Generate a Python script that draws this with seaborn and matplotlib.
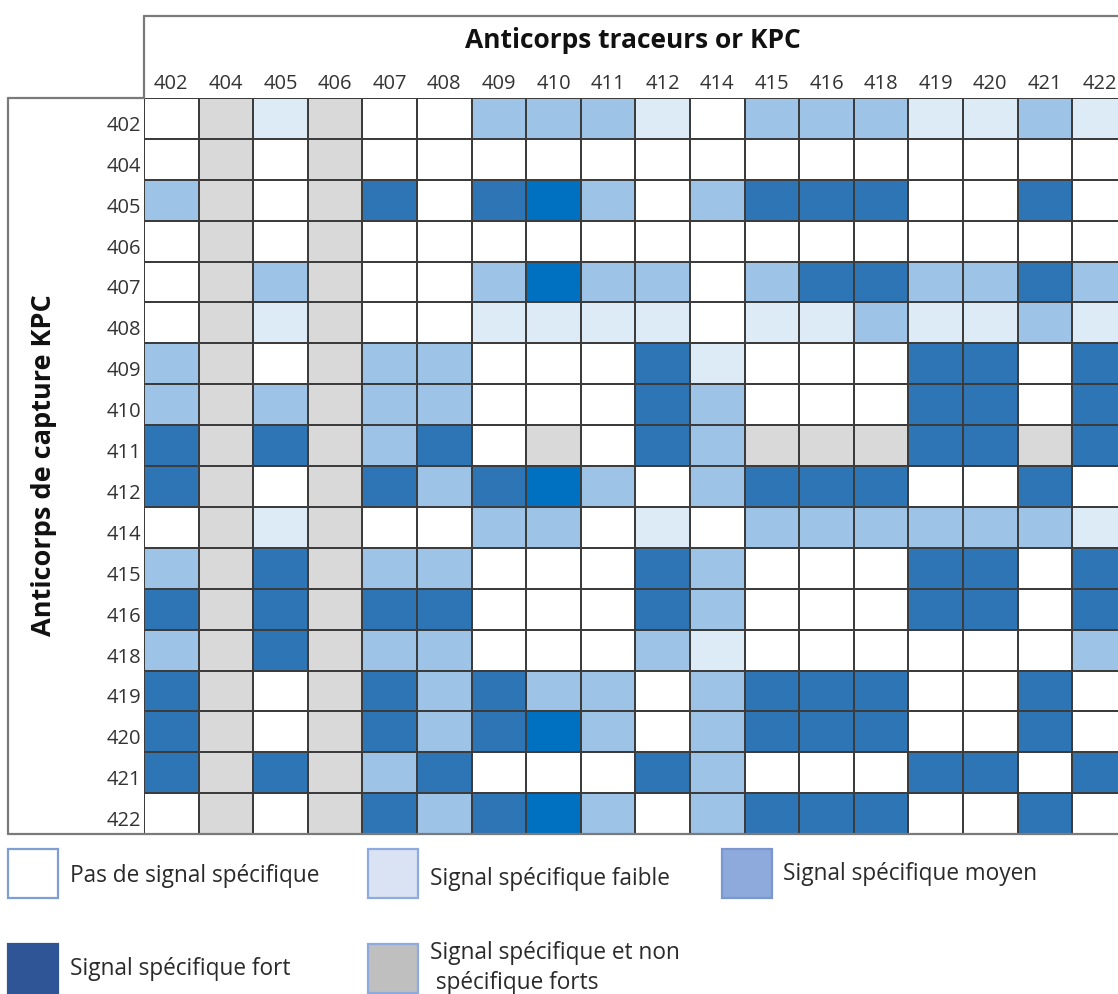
import numpy as np
import pandas as pd
import seaborn as sns
import matplotlib.pyplot as plt
from matplotlib.colors import ListedColormap
from matplotlib.lines import Line2D
from matplotlib.patches import Rectangle

sns.set_style("white")
plt.rcParams["font.family"] = ["Open Sans", "DejaVu Sans"]

# KPC antibody identifiers (tracer columns and capture rows share the same list)
tracers = ["402", "404", "405", "406", "407", "408", "409", "410", "411",
           "412", "414", "415", "416", "418", "419", "420", "421", "422"]
captures = list(tracers)

# Signal codes: 0 none, 1 weak, 2 medium, 3 strong, 4 strong (bright), 5 specific + non-specific
r402 = [0, 5, 1, 5, 0, 0, 2, 2, 2, 1, 0, 2, 2, 2, 1, 1, 2, 1]
r404 = [0, 5, 0, 5, 0, 0, 0, 0, 0, 0, 0, 0, 0, 0, 0, 0, 0, 0]
r405 = [2, 5, 0, 5, 3, 0, 3, 4, 2, 0, 2, 3, 3, 3, 0, 0, 3, 0]
r406 = [0, 5, 0, 5, 0, 0, 0, 0, 0, 0, 0, 0, 0, 0, 0, 0, 0, 0]
r407 = [0, 5, 2, 5, 0, 0, 2, 4, 2, 2, 0, 2, 3, 3, 2, 2, 3, 2]
r408 = [0, 5, 1, 5, 0, 0, 1, 1, 1, 1, 0, 1, 1, 2, 1, 1, 2, 1]
r409 = [2, 5, 0, 5, 2, 2, 0, 0, 0, 3, 1, 0, 0, 0, 3, 3, 0, 3]
r410 = [2, 5, 2, 5, 2, 2, 0, 0, 0, 3, 2, 0, 0, 0, 3, 3, 0, 3]
r411 = [3, 5, 3, 5, 2, 3, 0, 5, 0, 3, 2, 5, 5, 5, 3, 3, 5, 3]
r412 = [3, 5, 0, 5, 3, 2, 3, 4, 2, 0, 2, 3, 3, 3, 0, 0, 3, 0]
r414 = [0, 5, 1, 5, 0, 0, 2, 2, 0, 1, 0, 2, 2, 2, 2, 2, 2, 1]
r415 = [2, 5, 3, 5, 2, 2, 0, 0, 0, 3, 2, 0, 0, 0, 3, 3, 0, 3]
r416 = [3, 5, 3, 5, 3, 3, 0, 0, 0, 3, 2, 0, 0, 0, 3, 3, 0, 3]
r418 = [2, 5, 3, 5, 2, 2, 0, 0, 0, 2, 1, 0, 0, 0, 0, 0, 0, 2]
r419 = [3, 5, 0, 5, 3, 2, 3, 2, 2, 0, 2, 3, 3, 3, 0, 0, 3, 0]
r420 = [3, 5, 0, 5, 3, 2, 3, 4, 2, 0, 2, 3, 3, 3, 0, 0, 3, 0]
r421 = [3, 5, 3, 5, 2, 3, 0, 0, 0, 3, 2, 0, 0, 0, 3, 3, 0, 3]
r422 = [0, 5, 0, 5, 3, 2, 3, 4, 2, 0, 2, 3, 3, 3, 0, 0, 3, 0]

signal = pd.DataFrame(
    [r402, r404, r405, r406, r407, r408, r409, r410, r411,
     r412, r414, r415, r416, r418, r419, r420, r421, r422],
    index=captures, columns=tracers)

cell_colors = ["#FFFFFF", "#DDEBF7", "#9DC3E6", "#2E75B6", "#0070C0", "#D9D9D9"]

legend_labels = ["Pas de signal spécifique", "Signal spécifique faible",
                 "Signal spécifique moyen", "Signal spécifique fort",
                 "Signal spécifique et non\n spécifique forts"]
legend_fill = ["#FFFFFF", "#DAE3F3", "#8EA9DB", "#2F5597", "#BFBFBF"]
legend_edge = ["#7F9FD3", "#8FAADC", "#7A98CF", "#2F5597", "#8FAADC"]

W, H = 1118, 994
fig = plt.figure(figsize=(W / 100, H / 100), dpi=100)


def fx(px):
    return px / W


def fy(py):
    return 1 - py / H


grid_left, grid_top, cell_w, cell_h = 144, 98, 54.6, 40.9
ncol, nrow = len(tracers), len(captures)
ax = fig.add_axes([fx(grid_left), fy(grid_top + cell_h * nrow),
                   cell_w * ncol / W, cell_h * nrow / H])

sns.heatmap(signal, ax=ax, cmap=ListedColormap(cell_colors), vmin=-0.5, vmax=5.5,
            cbar=False, linewidths=1.3, linecolor="#3C3C3C", square=False)

ax.xaxis.tick_top()
ax.set_xticks(np.arange(ncol) + 0.5)
ax.set_xticklabels(tracers, fontsize=14.5, color="#333333", rotation=0)
ax.set_yticks(np.arange(nrow) + 0.68)
ax.set_yticklabels(captures, fontsize=14.5, color="#333333", rotation=0)
ax.tick_params(axis="x", length=0, pad=3)
ax.tick_params(axis="y", length=0, pad=2)
ax.set_xlabel("")
ax.set_ylabel("")
for s in ax.spines.values():
    s.set_visible(False)

fig.text(fx(633), fy(41), "Anticorps traceurs or KPC", ha="center", va="center",
         fontsize=19, fontweight="bold", color="#111111")
fig.text(fx(44), fy(465), "Anticorps de capture KPC", ha="center", va="center",
         rotation=90, fontsize=19.5, fontweight="bold", color="#111111")

# Table frame around the header and the row labels
frame = dict(color="#7A7A7A", lw=1.6, transform=fig.transFigure)
bottom = grid_top + cell_h * nrow
for xs, ys in [([144, W], [16, 16]), ([144, 144], [16, grid_top]),
               ([8, 144], [grid_top, grid_top]), ([8, 8], [grid_top, bottom]),
               ([8, W], [bottom, bottom])]:
    fig.add_artist(Line2D([fx(x) for x in xs], [fy(y) for y in ys], **frame))

# Legend swatches
boxes = [(8, 849), (368, 849), (722, 849), (8, 944), (368, 944)]
texts = [(70, 876), (430, 879), (783, 874), (70, 969), (430, 968)]
for (bx, by), (tx, ty), lab, fc, ec in zip(boxes, texts, legend_labels,
                                           legend_fill, legend_edge):
    fig.add_artist(Rectangle((fx(bx), fy(by + 49)), 50 / W, 49 / H, facecolor=fc,
                             edgecolor=ec, lw=1.6, transform=fig.transFigure))
    fig.text(fx(tx), fy(ty), lab, ha="left", va="center", fontsize=16.3,
             color="#2A2A2A", linespacing=1.3)

fig.savefig("out.png", dpi=100)
